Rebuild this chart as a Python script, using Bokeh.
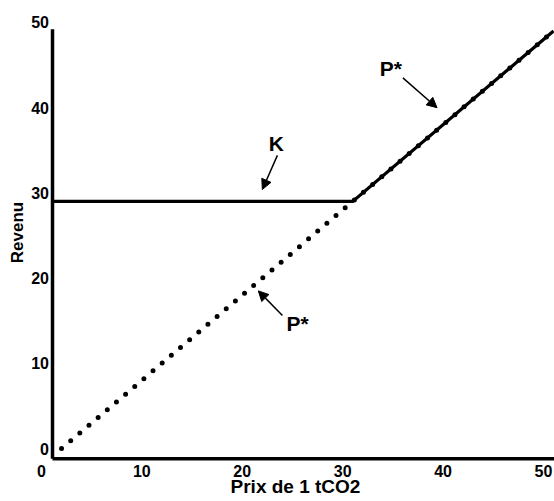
from bokeh.plotting import figure
from bokeh.models import Arrow, NormalHead, Range1d
from bokeh.core.properties import value
from bokeh.embed import file_html
from bokeh.resources import INLINE
import math

# ---- data ----
x_ticks = [0, 10, 20, 30, 40, 50]
y_ticks = [0, 10, 20, 30, 40, 50]
x_tick_labels = ["0", "10", "20", "30", "40", "50"]
y_tick_labels = ["0", "10", "20", "30", "40", "50"]

# P* : revenue from selling at market price (dotted)
p_prix = [2, 51]
p_revenu = [0, 49]

# max(K, P*) : revenue with guaranteed floor K (solid)
k_prix = [1.1, 31, 51]
k_revenu = [29, 29, 49]

x_title = "Prix de 1 tCO2"
y_title = "Revenu"

FONT = value("Liberation Sans")

p = figure(width=554, height=500,
           x_range=Range1d(-4.08, 51.1), y_range=Range1d(-6.10, 52.58),
           x_axis_type=None, y_axis_type=None,
           output_backend="svg", toolbar_location=None,
           min_border=0, outline_line_color=None)
p.background_fill_color = "white"
p.border_fill_color = "white"

# axis lines
x_axis_y = -1.2
y_axis_x = 1.1
p.line([y_axis_x, 51.1], [x_axis_y, x_axis_y], line_color="black", line_width=3.5)
p.line([y_axis_x, y_axis_x], [x_axis_y, 49.2], line_color="black", line_width=3.5)

# P* dotted line
p.line(p_prix, p_revenu, line_color="black", line_width=5,
       line_dash="0 12", line_cap="round")

# K / P* solid line
p.line(k_prix, k_revenu, line_color="black", line_width=3.2, line_join="miter")

# tick labels
p.text(x=x_ticks, y=[-2.6] * len(x_ticks), text=x_tick_labels,
       text_font=FONT, text_font_style="bold", text_font_size="16px",
       text_align="center", text_baseline="middle", text_color="black")
p.text(x=[0.75] * len(y_ticks), y=y_ticks, text=y_tick_labels,
       text_font=FONT, text_font_style="bold", text_font_size="16px",
       text_align="right", text_baseline="middle", text_color="black")

# axis titles
p.text(x=[25.3], y=[-4.5], text=[x_title],
       text_font=FONT, text_font_style="bold", text_font_size="19px",
       text_align="center", text_baseline="middle", text_color="black")
p.text(x=[-2.4], y=[25.35], text=[y_title], angle=math.pi / 2,
       text_font=FONT, text_font_style="bold", text_font_size="17px",
       text_align="center", text_baseline="middle", text_color="black")

# annotations
p.text(x=[23.4, 34.8, 25.5], y=[35.8, 44.6, 14.7], text=["K", "P*", "P*"],
       text_font=FONT, text_font_style="bold", text_font_size="21px",
       text_align="center", text_baseline="middle", text_color="black")

for xs, ys, xe, ye in [(23.5, 34.4, 22.0, 30.4),
                       (36.0, 43.5, 39.4, 40.0),
                       (24.0, 15.6, 21.6, 18.5)]:
    p.add_layout(Arrow(x_start=xs, y_start=ys, x_end=xe, y_end=ye,
                       line_width=1.5, line_color="black",
                       end=NormalHead(size=10, line_color="black",
                                      fill_color="black", line_width=1)))

open("out.html", "w").write(file_html(p, INLINE))
